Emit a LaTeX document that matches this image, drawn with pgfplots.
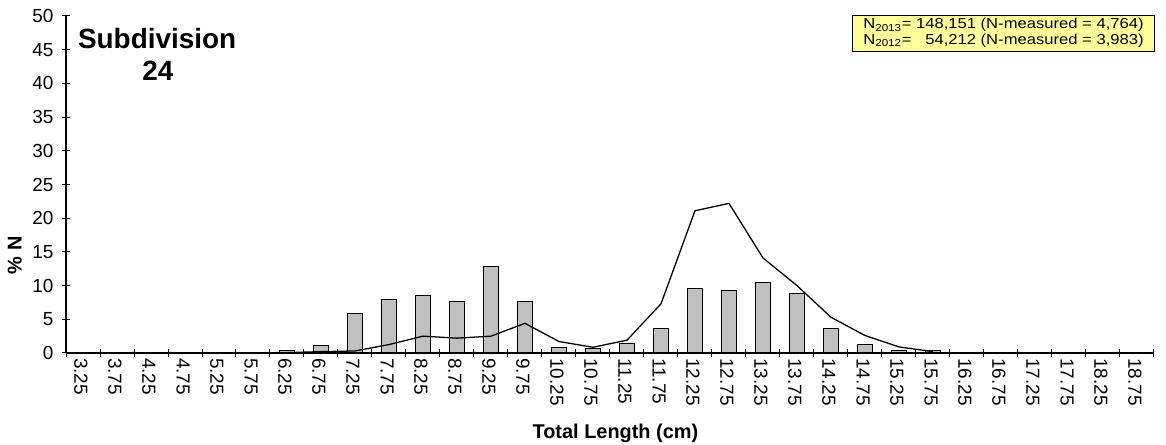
\documentclass[border=0pt]{standalone}
\usepackage{fontspec}
\setmainfont{Liberation Sans}
\usepackage{graphicx}
\usepackage{pgfplots}
\pgfplotsset{compat=1.18}
\definecolor{barfill}{RGB}{192,192,192}
\definecolor{legfill}{RGB}{255,255,153}

\pgfplotstableread{
x y
6 0.3
7 1.1
8 5.8
9 8.0
10 8.5
11 7.7
12 12.9
13 7.7
14 0.85
15 0.7
16 1.4
17 3.6
18 9.6
19 9.3
20 10.4
21 8.8
22 3.6
23 1.2
24 0.35
25 0.3
}\bars

\pgfplotstableread{
x y
6 0.05
7 0.2
8 0.3
9 1.25
10 2.5
11 2.2
12 2.5
13 4.4
14 1.7
15 0.85
16 1.9
17 7.3
18 21.1
19 22.2
20 14.1
21 10.0
22 5.3
23 2.6
24 0.9
25 0.2
}\line

\begin{document}
\begin{tikzpicture}[x=1bp,y=1bp]
\path[use as bounding box] (0,0) rectangle (1166,445);
\begin{axis}[
  at={(66bp,92bp)}, anchor=south west,
  scale only axis, width=1088bp, height=337bp,
  xmin=-0.5, xmax=31.5, ymin=0, ymax=50,
  axis lines=left,
  axis line style={-, line width=1.6pt},
  ytick={0,5,...,50},
  xtick={-0.5,0.5,...,31.5},
  x tick label as interval,
  xticklabels={3.25,3.75,4.25,4.75,5.25,5.75,6.25,6.75,7.25,7.75,8.25,8.75,9.25,9.75,10.25,10.75,11.25,11.75,12.25,12.75,13.25,13.75,14.25,14.75,15.25,15.75,16.25,16.75,17.25,17.75,18.25,18.75},
  xticklabel style={rotate=-90, anchor=west, font=\fontsize{19}{20}\selectfont, inner sep=1bp, yshift=-2bp},
  yticklabel style={font=\fontsize{19}{20}\selectfont, xshift=-5bp},
  /pgf/number format/assume math mode=true,
  tick align=center, major tick length=8bp,
  tick style={black, line width=1pt},
  xlabel={\textbf{Total Length (cm)}},
  xlabel style={at={(axis description cs:0.505,0)}, yshift=-80bp, anchor=center, font=\fontsize{20}{22}\selectfont},
  ylabel={\textbf{\% N}},
  ylabel style={at={(axis description cs:-0.047,0.29)}, anchor=center, rotate=0, font=\fontsize{20}{22}\selectfont},
  clip=false,
]
\addplot[ybar, bar width=15bp, fill=barfill, draw=black, line width=1pt] table[x=x,y=y] {\bars};
\addplot[sharp plot, black, line width=1.3pt, no marks] table[x=x,y=y] {\line};
\node[font=\bfseries\fontsize{28}{30}\selectfont] at (axis cs:2.18,46.7) {Subdivision};
\node[font=\bfseries\fontsize{28}{30}\selectfont] at (axis cs:2.2,41.8) {24};
\end{axis}
\node[draw=black, line width=1pt, fill=legfill, anchor=north east, minimum width=302bp, minimum height=36bp, inner sep=2bp, font=\fontsize{14.5}{15.5}\selectfont] at (1155,430)
{\scalebox{1.15}[1]{\begin{tabular}{@{}l@{\hspace{4bp}}r@{}}
N\textsubscript{2013}= & 148,151 (N-measured = 4,764)\\
N\textsubscript{2012}= & 54,212 (N-measured = 3,983)
\end{tabular}}};
\end{tikzpicture}
\end{document}
